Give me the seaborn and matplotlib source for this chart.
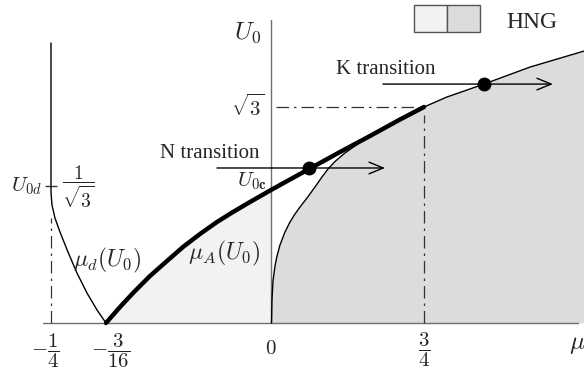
import numpy as np
import matplotlib
matplotlib.use("Agg")
import matplotlib.pyplot as plt
import seaborn as sns
from matplotlib.patches import Rectangle

# --- data (schematic phase diagram) ---
SQ3 = np.sqrt(3.0)

# thick boundary mu_A(U0)
mu_A = [-0.1875, -0.1716, -0.1568, -0.1375, -0.1182, -0.1, -0.0807, -0.0614, -0.0432,
        -0.0239, 0.0, 0.0931, 0.1912, 0.3382, 0.4853, 0.6324, 0.75]
U_A = [0.0, 0.0674, 0.1264, 0.1981, 0.2613, 0.3203, 0.3751, 0.4256, 0.4678,
       0.5099, 0.5605, 0.6724, 0.8332, 1.0745, 1.3084, 1.5496, 1.7321]

# thin boundary of the HNG (dark) region
mu_B = [0.0025, 0.0049, 0.0098, 0.0196, 0.0294, 0.0441, 0.0686, 0.0931, 0.1176, 0.1422,
        0.1765, 0.2157, 0.25, 0.2794, 0.3137, 0.3627, 0.4216, 0.4853, 0.6324, 0.75,
        0.8627, 1.0441, 1.2696, 1.5343]
U_B = [0.0, 0.0969, 0.177, 0.2402, 0.2823, 0.3287, 0.3835, 0.4256, 0.4593, 0.4888,
       0.5268, 0.5731, 0.709, 0.8259, 0.9356, 1.0599, 1.1841, 1.3084, 1.5496, 1.7321,
       1.8783, 2.0671, 2.3157, 2.5497]

# mu_d(U0)
mu_d = [-0.1875, -0.1977, -0.2091, -0.2205, -0.2307, -0.2398, -0.2455, -0.2489, -0.25, -0.25]
U_d = [0.0, 0.0548, 0.1264, 0.2107, 0.2992, 0.3835, 0.4425, 0.4973, 0.552, 2.668]

# transitions: (U0 level, arrow start, arrow end, dot position)
trans_names = ["N transition", "K transition"]
trans_U = [0.8406, 2.0671]
trans_start = [-0.0614, 0.549]
trans_end = [0.559, 1.382]
trans_dot = [0.186, 1.044]

mu_tick_labels = [r"$-\dfrac{1}{4}$", r"$-\dfrac{3}{16}$", r"$0$", r"$\dfrac{3}{4}$"]
U0d = 1 / SQ3

# --- schematic (piecewise linear) scales ---
X_NEG, X_POS = 880.0, 204.0
U_KNOTS = [-10.0, 0.0, 1 / SQ3, SQ3, 20.0]
H_KNOTS = [-2373.0, 0.0, 137.0, 216.0, 216.0 + 68.4 * (20.0 - SQ3)]


def fx(m):
    m = np.asarray(m, dtype=float)
    return np.where(m < 0, m * X_NEG, m * X_POS)


def ix(s):
    s = np.asarray(s, dtype=float)
    return np.where(s < 0, s / X_NEG, s / X_POS)


def fy(u):
    return np.interp(np.asarray(u, dtype=float), U_KNOTS, H_KNOTS)


def iy(h):
    return np.interp(np.asarray(h, dtype=float), H_KNOTS, U_KNOTS)


sns.set_theme(style="white")
plt.rcParams["font.family"] = "serif"
plt.rcParams["font.serif"] = ["Liberation Serif", "DejaVu Serif"]
plt.rcParams["mathtext.fontset"] = "cm"

W, H = 584, 374
fig = plt.figure(figsize=(W / 100, H / 100), dpi=100)
ax = fig.add_axes([0, 0, 1, 1])
ax.set_xscale("function", functions=(fx, ix))
ax.set_yscale("function", functions=(fy, iy))
ax.set_xlim(float(ix(-271)), float(ix(313)))
ax.set_ylim(float(iy(-51)), float(iy(323)))
ax.axis("off")

light, dark = "#f2f2f2", "#dcdcdc"
axis_col = "#707070"


def px(x, y):
    # pixel position -> axes fraction (for text placement)
    return x / W, 1 - y / H


# shaded regions
ax.fill_between(mu_A[:11], U_A[:11], 0, color=light, lw=0, zorder=0)
ax.fill_between(mu_B, U_B, 0, color=dark, lw=0, zorder=0)

# axes lines
ax.plot([-0.259, 1.505], [0, 0], color=axis_col, lw=1.0, zorder=1)
ax.plot([0, 0], [0, 3.0], color=axis_col, lw=1.0, zorder=1)

# guide lines
dashdot = (0, (10, 4, 2, 4))
ax.plot([-0.25, -0.25], [0, 0.4425], color="#333333", lw=0.9, ls=dashdot)
ax.plot([0.025, 0.706], [SQ3, SQ3], color="#333333", lw=0.9, ls=dashdot)
ax.plot([0.75, 0.75], [0, 1.615], color="#333333", lw=0.9, ls=dashdot)
ax.plot([-0.25], [U0d], marker="_", ms=9, mew=1.0, color="#333333")

# curves
sns.lineplot(x=mu_B, y=U_B, sort=False, estimator=None, color="black", lw=1.0, ax=ax)
sns.lineplot(x=mu_d, y=U_d, sort=False, estimator=None, color="black", lw=1.0, ax=ax)
sns.lineplot(x=mu_A, y=U_A, sort=False, estimator=None, color="black", lw=3.2, ax=ax)

# transitions
for u, a, b, d in zip(trans_U, trans_start, trans_end, trans_dot):
    ax.annotate("", xy=(b, u), xytext=(a, u),
                arrowprops=dict(arrowstyle="->,head_length=0.85,head_width=0.35",
                                lw=1.0, color="black", shrinkA=0, shrinkB=0))
    ax.plot([d], [u], "o", color="black", ms=9, zorder=5)

ax.text(*px(210, 154), trans_names[0], transform=ax.transAxes, fontsize=15,
        ha="center", va="center")
ax.text(*px(386, 70), trans_names[1], transform=ax.transAxes, fontsize=15,
        ha="center", va="center")

# tick labels
xt = ax.get_xaxis_transform()
ax.text(-0.25 - 0.007, 1 - 351 / H, mu_tick_labels[0], transform=xt, fontsize=15,
        ha="center", va="center")
ax.text(-3 / 16 + 0.005, 1 - 351 / H, mu_tick_labels[1], transform=xt, fontsize=15,
        ha="center", va="center")
ax.text(0.0, 1 - 350 / H, mu_tick_labels[2], transform=xt, fontsize=15,
        ha="center", va="center")
ax.text(0.75, 1 - 350 / H, mu_tick_labels[3], transform=xt, fontsize=15,
        ha="center", va="center")
ax.text(*px(569, 345), r"$\mu$", transform=ax.transAxes, fontsize=18,
        ha="left", va="center")

ax.text(*px(261, 33), r"$U_0$", transform=ax.transAxes, fontsize=18,
        ha="right", va="center")
ax.text(*px(264, 108), r"$\sqrt{3}$", transform=ax.transAxes, fontsize=15,
        ha="right", va="center")
ax.text(*px(267, 181), r"$U_{\mathbf{0c}}$", transform=ax.transAxes, fontsize=15,
        ha="right", va="center")
ax.text(*px(42, 186), r"$U_{\mathbf{0}d}$", transform=ax.transAxes, fontsize=15,
        ha="right", va="center")
ax.text(*px(78, 187), r"$\dfrac{1}{\sqrt{3}}$", transform=ax.transAxes, fontsize=14,
        ha="center", va="center")

ax.text(*px(107, 260), r"$\mu_d(U_0)$", transform=ax.transAxes, fontsize=17,
        ha="center", va="center")
ax.text(*px(224, 253), r"$\mu_A(U_0)$", transform=ax.transAxes, fontsize=17,
        ha="center", va="center")

# legend boxes
for x0, col in [(414, light), (447, dark)]:
    ax.add_patch(Rectangle(px(x0, 32), 33 / W, 27 / H, transform=ax.transAxes,
                           facecolor=col, edgecolor="#555555", lw=1.0))
ax.text(*px(532, 22), "HNG", transform=ax.transAxes, fontsize=17,
        ha="center", va="center")

fig.savefig("out.png", dpi=100)
